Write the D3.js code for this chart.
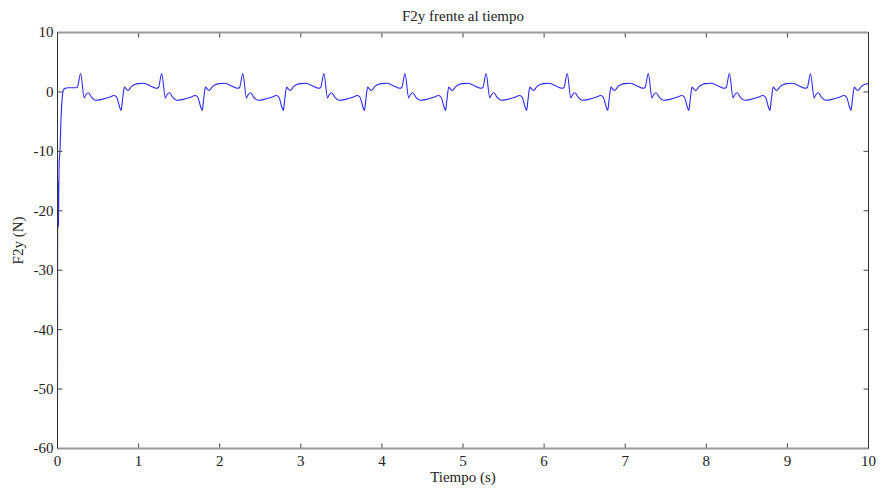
<!DOCTYPE html>
<html>
<head>
<meta charset="utf-8">
<script src="https://cdn.jsdelivr.net/npm/d3@7"></script>
<style>
  body { margin: 0; background: #fff; }
  text { font-family: "Liberation Serif", "DejaVu Serif", serif; fill: #222; }
</style>
</head>
<body>
<div class="container"></div>
<script>
// F2y frente al tiempo

var width = 881;
var height = 491;
var margin = {top: 32.5, right: 12.5, bottom: 42.5, left: 57.5};

var xTicks = [0, 1, 2, 3, 4, 5, 6, 7, 8, 9, 10];
var yTicks = [10, 0, -10, -20, -30, -40, -50, -60];

// time (s), one line per period
var time = [
    0, 0.003, 0.006, 0.009, 0.012, 0.015, 0.02, 0.03, 0.045, 0.055, 0.07, 0.09, 0.13, 0.18, 0.22, 0.245,
    0.285, 0.33, 0.345, 0.38, 0.42, 0.47, 0.55, 0.63, 0.70, 0.73, 0.765, 0.785, 0.80, 0.825, 0.845, 0.87, 0.91, 0.96,
    1.00, 1.06, 1.14, 1.22, 1.245, 1.285, 1.33, 1.345, 1.38, 1.42, 1.47, 1.55, 1.63, 1.70, 1.73, 1.765, 1.785, 1.80, 1.825, 1.845, 1.87, 1.91, 1.96,
    2.00, 2.06, 2.14, 2.22, 2.245, 2.285, 2.33, 2.345, 2.38, 2.42, 2.47, 2.55, 2.63, 2.70, 2.73, 2.765, 2.785, 2.80, 2.825, 2.845, 2.87, 2.91, 2.96,
    3.00, 3.06, 3.14, 3.22, 3.245, 3.285, 3.33, 3.345, 3.38, 3.42, 3.47, 3.55, 3.63, 3.70, 3.73, 3.765, 3.785, 3.80, 3.825, 3.845, 3.87, 3.91, 3.96,
    4.00, 4.06, 4.14, 4.22, 4.245, 4.285, 4.33, 4.345, 4.38, 4.42, 4.47, 4.55, 4.63, 4.70, 4.73, 4.765, 4.785, 4.80, 4.825, 4.845, 4.87, 4.91, 4.96,
    5.00, 5.06, 5.14, 5.22, 5.245, 5.285, 5.33, 5.345, 5.38, 5.42, 5.47, 5.55, 5.63, 5.70, 5.73, 5.765, 5.785, 5.80, 5.825, 5.845, 5.87, 5.91, 5.96,
    6.00, 6.06, 6.14, 6.22, 6.245, 6.285, 6.33, 6.345, 6.38, 6.42, 6.47, 6.55, 6.63, 6.70, 6.73, 6.765, 6.785, 6.80, 6.825, 6.845, 6.87, 6.91, 6.96,
    7.00, 7.06, 7.14, 7.22, 7.245, 7.285, 7.33, 7.345, 7.38, 7.42, 7.47, 7.55, 7.63, 7.70, 7.73, 7.765, 7.785, 7.80, 7.825, 7.845, 7.87, 7.91, 7.96,
    8.00, 8.06, 8.14, 8.22, 8.245, 8.285, 8.33, 8.345, 8.38, 8.42, 8.47, 8.55, 8.63, 8.70, 8.73, 8.765, 8.785, 8.80, 8.825, 8.845, 8.87, 8.91, 8.96,
    9.00, 9.06, 9.14, 9.22, 9.245, 9.285, 9.33, 9.345, 9.38, 9.42, 9.47, 9.55, 9.63, 9.70, 9.73, 9.765, 9.785, 9.80, 9.825, 9.845, 9.87, 9.91, 9.96,
    10.00
];

// F2y (N), same layout as time
var force = [
    -52, -15, -23, -17, -22.5, -18, -12, -10, -4, -1.5, 0.2, 0.6, 0.7, 0.7, 0.7, 0.8,
    3.1, -1.0, -0.6, -0.15, -0.9, -1.4, -1.25, -0.95, -0.6, -0.9, -2.5, -3.1, -1.5, 0.8, 0.5, 0.25, 0.9, 1.3,
    1.4, 1.45, 1.05, 0.62, 0.75, 3.1, -1.0, -0.6, -0.15, -0.9, -1.4, -1.25, -0.95, -0.6, -0.9, -2.5, -3.1, -1.5, 0.8, 0.5, 0.25, 0.9, 1.3,
    1.4, 1.45, 1.05, 0.62, 0.75, 3.1, -1.0, -0.6, -0.15, -0.9, -1.4, -1.25, -0.95, -0.6, -0.9, -2.5, -3.1, -1.5, 0.8, 0.5, 0.25, 0.9, 1.3,
    1.4, 1.45, 1.05, 0.62, 0.75, 3.1, -1.0, -0.6, -0.15, -0.9, -1.4, -1.25, -0.95, -0.6, -0.9, -2.5, -3.1, -1.5, 0.8, 0.5, 0.25, 0.9, 1.3,
    1.4, 1.45, 1.05, 0.62, 0.75, 3.1, -1.0, -0.6, -0.15, -0.9, -1.4, -1.25, -0.95, -0.6, -0.9, -2.5, -3.1, -1.5, 0.8, 0.5, 0.25, 0.9, 1.3,
    1.4, 1.45, 1.05, 0.62, 0.75, 3.1, -1.0, -0.6, -0.15, -0.9, -1.4, -1.25, -0.95, -0.6, -0.9, -2.5, -3.1, -1.5, 0.8, 0.5, 0.25, 0.9, 1.3,
    1.4, 1.45, 1.05, 0.62, 0.75, 3.1, -1.0, -0.6, -0.15, -0.9, -1.4, -1.25, -0.95, -0.6, -0.9, -2.5, -3.1, -1.5, 0.8, 0.5, 0.25, 0.9, 1.3,
    1.4, 1.45, 1.05, 0.62, 0.75, 3.1, -1.0, -0.6, -0.15, -0.9, -1.4, -1.25, -0.95, -0.6, -0.9, -2.5, -3.1, -1.5, 0.8, 0.5, 0.25, 0.9, 1.3,
    1.4, 1.45, 1.05, 0.62, 0.75, 3.1, -1.0, -0.6, -0.15, -0.9, -1.4, -1.25, -0.95, -0.6, -0.9, -2.5, -3.1, -1.5, 0.8, 0.5, 0.25, 0.9, 1.3,
    1.4, 1.45, 1.05, 0.62, 0.75, 3.05, -1.0, -0.6, -0.15, -0.9, -1.4, -1.25, -0.95, -0.6, -0.9, -2.5, -3.1, -1.5, 0.8, 0.5, 0.25, 0.9, 1.3,
    1.4
];

var x = d3.scaleLinear().domain([0, 10]).range([margin.left, width - margin.right]);
var y = d3.scaleLinear().domain([-60, 10]).range([height - margin.bottom, margin.top]);

const svg = d3.select(".container")
    .append("svg")
    .attr("width", width)
    .attr("height", height);

var x0 = x(0), x1 = x(10), y0 = y(-60), y1 = y(10);
var tickLen = 5;

// data line
var points = time.map(function(t, i) { return [t, force[i]]; });
var line = d3.line()
    .x(function(d) { return x(d[0]); })
    .y(function(d) { return y(d[1]); })
    .curve(d3.curveMonotoneX);

svg.append("path")
    .datum(points)
    .attr("fill", "none")
    .attr("stroke", "#2a2aff")
    .attr("stroke-width", 1.1)
    .attr("d", line);

// ticks on all four sides, pointing inward
var ticks = svg.append("g").attr("stroke", "#444").attr("stroke-width", 1);
xTicks.forEach(function(t)
{
    ticks.append("line").attr("x1", x(t)).attr("x2", x(t)).attr("y1", y0).attr("y2", y0 - tickLen);
    ticks.append("line").attr("x1", x(t)).attr("x2", x(t)).attr("y1", y1).attr("y2", y1 + tickLen);
});
yTicks.forEach(function(v)
{
    ticks.append("line").attr("x1", x0).attr("x2", x0 + tickLen).attr("y1", y(v)).attr("y2", y(v));
    ticks.append("line").attr("x1", x1).attr("x2", x1 - tickLen).attr("y1", y(v)).attr("y2", y(v));
});

// box
svg.append("line").attr("x1", x0).attr("x2", x1).attr("y1", y1).attr("y2", y1)
    .attr("stroke", "#999").attr("stroke-width", 2);
svg.append("line").attr("x1", x0).attr("x2", x1).attr("y1", y0).attr("y2", y0)
    .attr("stroke", "#999").attr("stroke-width", 2);
svg.append("line").attr("x1", x0).attr("x2", x0).attr("y1", y1).attr("y2", y0)
    .attr("stroke", "#333").attr("stroke-width", 1);
svg.append("line").attr("x1", x1).attr("x2", x1).attr("y1", y1).attr("y2", y0)
    .attr("stroke", "#333").attr("stroke-width", 1);

// tick labels
svg.append("g").selectAll("text")
    .data(xTicks)
    .enter().append("text")
    .attr("x", function(d) { return x(d); })
    .attr("y", y0 + 17)
    .attr("text-anchor", "middle")
    .style("font-size", "15px")
    .text(function(d) { return d; });

svg.append("g").selectAll("text")
    .data(yTicks)
    .enter().append("text")
    .attr("x", x0 - 4)
    .attr("y", function(d) { return y(d); })
    .attr("dy", "0.33em")
    .attr("text-anchor", "end")
    .style("font-size", "15px")
    .text(function(d) { return d; });

// titles
svg.append("text")
    .attr("x", (x0 + x1) / 2)
    .attr("y", 21)
    .attr("text-anchor", "middle")
    .style("font-size", "15px")
    .text("F2y frente al tiempo");

svg.append("text")
    .attr("x", (x0 + x1) / 2)
    .attr("y", 482)
    .attr("text-anchor", "middle")
    .style("font-size", "15px")
    .text("Tiempo (s)");

svg.append("text")
    .attr("transform", "translate(23," + ((y0 + y1) / 2) + ") rotate(-90)")
    .attr("text-anchor", "middle")
    .style("font-size", "15px")
    .text("F2y (N)");
</script>
</body>
</html>
